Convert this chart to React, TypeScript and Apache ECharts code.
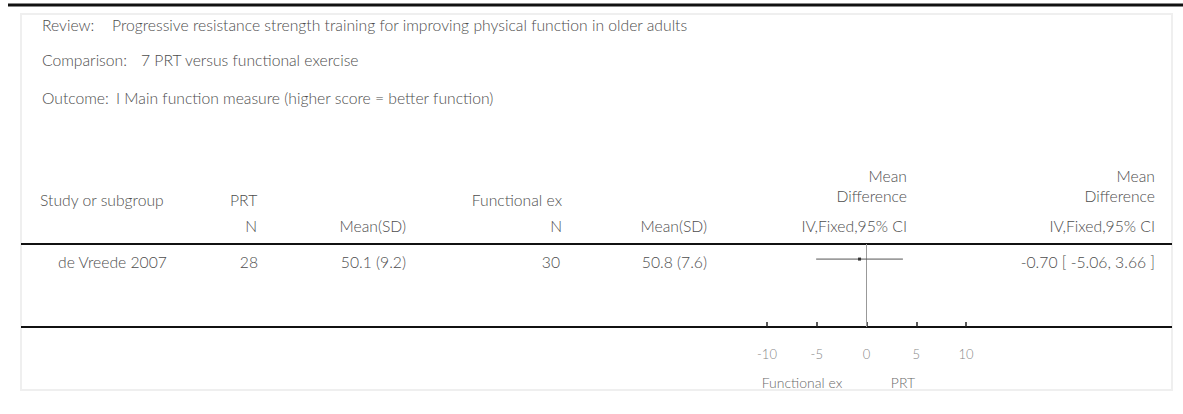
import React, { useEffect, useRef } from "react";
import * as echarts from "echarts";

// ---- data ----
const reviewTitle = "Progressive resistance strength training for improving physical function in older adults";
const comparisonTitle = "7 PRT versus functional exercise";
const outcomeTitle = "I Main function measure (higher score = better function)";
const groupA = "PRT";
const groupB = "Functional ex";
const studies = ["de Vreede 2007"];
const nA = [28];
const meanA = [50.1];
const sdA = [9.2];
const nB = [30];
const meanB = [50.8];
const sdB = [7.6];
const md = [-0.7];
const ciLow = [-5.06];
const ciHigh = [3.66];
const xTicks = { min: -10, max: 10, interval: 5 };
const favoursLeft = "Functional ex";
const favoursRight = "PRT";

const FONT = "Lato";
const TXT = "#4d4d4d";
const FS = 15.7;

function txt(text: string, x: number, y: number, align: string = "left", size = FS, color = TXT) {
  return {
    type: "text",
    x,
    y,
    silent: true,
    style: {
      text,
      fill: color,
      font: `300 ${size}px ${FONT}`,
      textAlign: align,
      align,
      textVerticalAlign: "middle",
      verticalAlign: "middle",
    },
  };
}

function hline(x1: number, x2: number, y: number, w: number, color = "#111") {
  return {
    type: "line",
    silent: true,
    shape: { x1, y1: y, x2, y2: y },
    style: { stroke: color, lineWidth: w },
  };
}

export default function App() {
  const ref = useRef<HTMLDivElement>(null);
  useEffect(() => {
    if (!ref.current) return;
    const chart = echarts.init(ref.current, undefined, { renderer: "svg" });

    const rowY0 = 262;
    const rowH = 16;
    const graphics: any[] = [
      hline(8, 1183, 5, 3),
      {
        type: "rect",
        silent: true,
        shape: { x: 21, y: 14, width: 1151, height: 376 },
        style: { fill: "none", stroke: "#efefef", lineWidth: 2 },
      },
      txt("Review:", 42, 25),
      txt(reviewTitle, 112, 25),
      txt("Comparison:", 42, 60),
      txt(comparisonTitle, 141, 60),
      txt("Outcome:", 42, 98),
      txt(outcomeTitle, 116, 98),
      txt("Study or subgroup", 40, 200),
      txt(groupA, 230, 200),
      txt(groupB, 562, 200, "right"),
      txt("Mean", 907, 176, "right"),
      txt("Difference", 907, 196, "right"),
      txt("Mean", 1155, 176, "right"),
      txt("Difference", 1155, 196, "right"),
      txt("N", 257, 226, "right"),
      txt("Mean(SD)", 406, 226, "right"),
      txt("N", 562, 226, "right"),
      txt("Mean(SD)", 707, 226, "right"),
      txt("IV,Fixed,95% CI", 907, 226, "right"),
      txt("IV,Fixed,95% CI", 1155, 226, "right"),
      hline(21, 1172, 244, 2),
      hline(21, 1172, 327, 2),
      txt(favoursLeft, 802, 382, "center", 14, "#6a6a6a"),
      txt(favoursRight, 903, 382, "center", 14, "#6a6a6a"),
    ];
    studies.forEach((s, i) => {
      const y = rowY0 + i * rowH;
      graphics.push(txt(s, 58, y));
      graphics.push(txt(String(nA[i]), 258, y, "right"));
      graphics.push(txt(`${meanA[i].toFixed(1)} (${sdA[i].toFixed(1)})`, 406, y, "right"));
      graphics.push(txt(String(nB[i]), 560, y, "right"));
      graphics.push(txt(`${meanB[i].toFixed(1)} (${sdB[i].toFixed(1)})`, 707, y, "right"));
      graphics.push(
        txt(`${md[i].toFixed(2)} [ ${ciLow[i].toFixed(2)}, ${ciHigh[i].toFixed(2)} ]`, 1155, y, "right")
      );
    });

    const forestData = studies.map((s, i) => [md[i], ciLow[i], ciHigh[i], i + 1]);

    chart.setOption({
      animation: false,
      grid: { left: 767, right: 217, top: 244, bottom: 87, containLabel: false },
      xAxis: {
        type: "value",
        min: xTicks.min,
        max: xTicks.max,
        interval: xTicks.interval,
        position: "bottom",
        axisLine: { show: true, onZero: false, lineStyle: { color: "#111", width: 2 } },
        axisTick: { show: true, inside: true, length: 5, lineStyle: { color: "#222", width: 1.5 } },
        axisLabel: { margin: 20, color: "#888888", fontSize: 13, fontFamily: FONT, fontWeight: 300 },
        splitLine: { show: false },
      },
      yAxis: { type: "value", inverse: true, min: 0, max: 5.5, show: false },
      series: [
        {
          type: "line",
          data: [
            [0, 0],
            [0, 5.5],
          ],
          symbol: "none",
          silent: true,
          lineStyle: { color: "#999", width: 1 },
          z: 1,
        },
        {
          type: "custom",
          data: forestData,
          silent: true,
          z: 3,
          renderItem: (params: any, api: any) => {
            const y = api.value(3);
            const lo = api.coord([api.value(1), y]);
            const hi = api.coord([api.value(2), y]);
            const m = api.coord([api.value(0), y]);
            return {
              type: "group",
              children: [
                {
                  type: "line",
                  shape: { x1: lo[0], y1: lo[1], x2: hi[0], y2: hi[1] },
                  style: { stroke: "#555", lineWidth: 1 },
                },
                {
                  type: "rect",
                  shape: { x: m[0] - 1.5, y: m[1] - 1.5, width: 3, height: 3 },
                  style: { fill: "#333" },
                },
              ],
            };
          },
        },
      ],
      graphic: graphics,
    });
    return () => chart.dispose();
  }, []);
  return (
    <div
      ref={ref}
      style={{ position: "absolute", left: 0, top: 0, width: 1183, height: 414, background: "#fff" }}
    />
  );
}
